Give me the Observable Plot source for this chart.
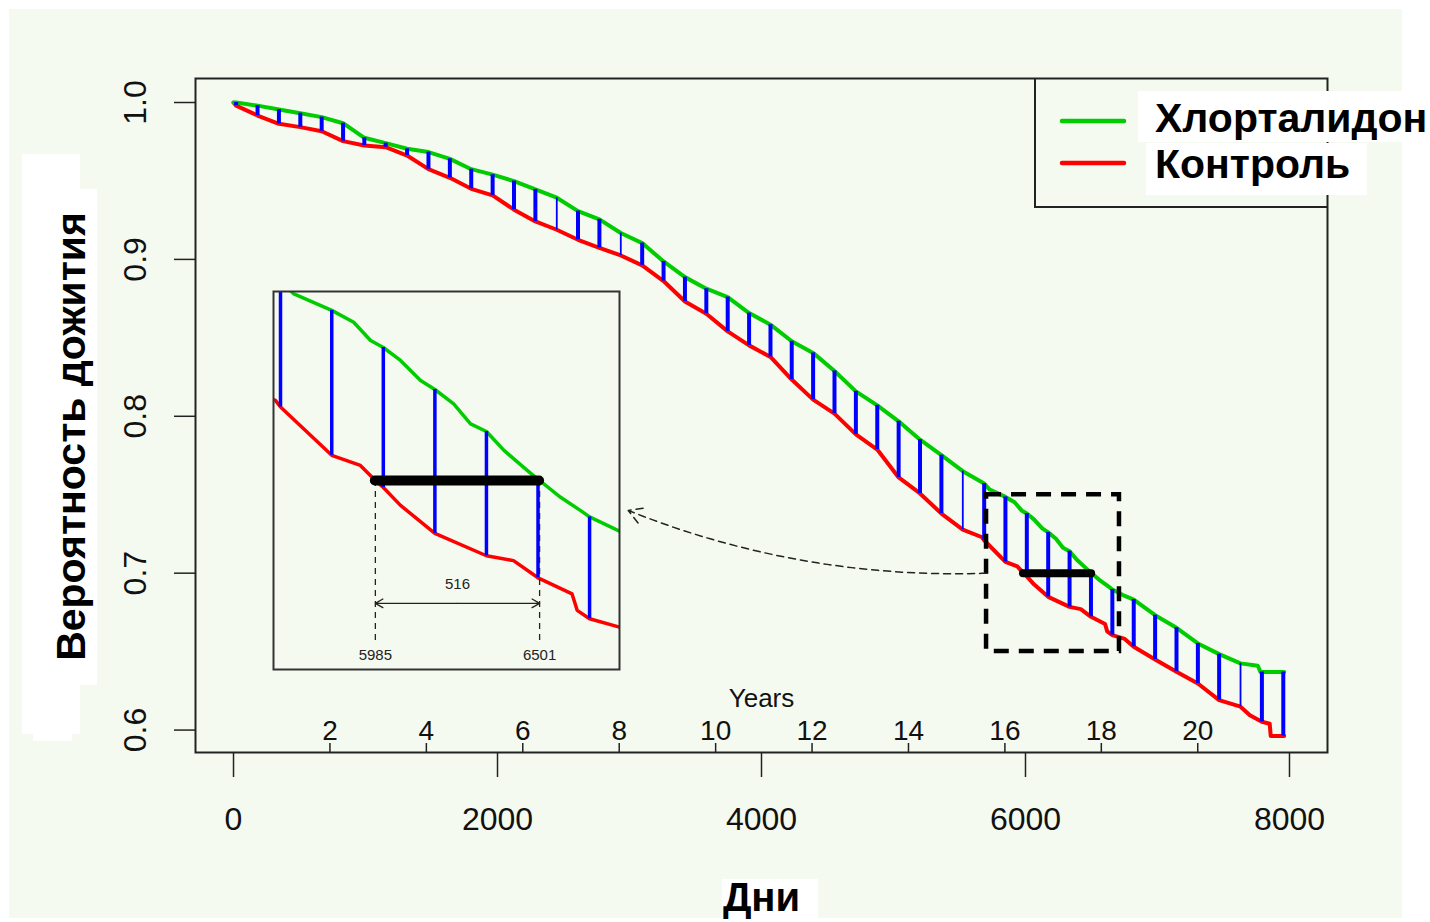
<!DOCTYPE html>
<html><head><meta charset="utf-8">
<script src="https://cdn.jsdelivr.net/npm/d3@7"></script>
<script src="https://cdn.jsdelivr.net/npm/@observablehq/plot@0.6"></script>
<style>
html,body{margin:0;padding:0;background:#fff;}
body{width:1430px;height:922px;position:relative;overflow:hidden;font-family:"Liberation Sans",Arial,sans-serif;}
.abs{position:absolute;}
</style></head><body>
<div class="abs" style="left:9px;top:9px;width:1393px;height:909px;background:#f5faf0"></div>
<div class="abs" style="left:22px;top:154px;width:58px;height:580px;background:#fff"></div>
<div class="abs" style="left:33px;top:189px;width:64px;height:496px;background:#fff"></div>
<div class="abs" style="left:33px;top:700px;width:39px;height:41px;background:#fff"></div>
<div class="abs" style="left:722px;top:879px;width:96px;height:43px;background:#fff"></div>
<div id="main" class="abs" style="left:0;top:0"></div>
<div id="inset" class="abs" style="left:271px;top:289px"></div>
<svg id="legend" class="abs" style="left:0;top:0;pointer-events:none" width="1430" height="922"></svg>
<script>
// ---- data ----
const seriesNames = ["Хлорталидон", "Контроль"];
const seriesColors = ["#00cc00", "#ff0000"];
const segColor = "#0000ff";

const xTicks = [0, 2000, 4000, 6000, 8000];
const yTicks = [0.6, 0.7, 0.8, 0.9, 1.0];
const yearTicks = [2, 4, 6, 8, 10, 12, 14, 16, 18, 20];

// days where the blue difference segments are drawn
const blueDays = [20, 182, 344, 506, 668, 830, 991, 1153, 1315, 1477,
  1639, 1801, 1963, 2125, 2287, 2449, 2610, 2772, 2934, 3096,
  3258, 3420, 3582, 3744, 3906, 4068, 4229, 4391, 4553, 4715,
  4877, 5039, 5201, 5363, 5525, 5687, 5848, 6010, 6172, 6334,
  6496, 6658, 6820, 6982, 7144, 7306, 7467, 7629, 7791, 7953];
const greenAtBlue = [1.000, 0.998, 0.9955, 0.9932, 0.9907, 0.9868, 0.9775, 0.9741, 0.9705, 0.9684,
  0.9641, 0.9575, 0.954, 0.9499, 0.9446, 0.9393, 0.9308, 0.9255, 0.9168, 0.9104,
  0.8987, 0.8887, 0.8813, 0.876, 0.8658, 0.8584, 0.8478, 0.8404, 0.8289, 0.8159,
  0.807, 0.7968, 0.7851, 0.7752, 0.765, 0.7571, 0.7486, 0.738, 0.726, 0.714,
  0.7003, 0.6896, 0.6832, 0.6732, 0.6652, 0.6552, 0.6484, 0.6425, 0.637, 0.637];
const redAtBlue = [0.998, 0.9917, 0.9864, 0.9843, 0.9817, 0.9754, 0.9726, 0.9715, 0.9662, 0.9575,
  0.952, 0.945, 0.9408, 0.9317, 0.9242, 0.9189, 0.9125, 0.9074, 0.9025, 0.8962,
  0.8862, 0.8732, 0.8654, 0.8541, 0.8452, 0.8378, 0.8234, 0.8106, 0.8017, 0.7885,
  0.7788, 0.761, 0.7508, 0.738, 0.7278, 0.721, 0.7072, 0.698, 0.6849, 0.6785,
  0.6722, 0.6605, 0.6531, 0.645, 0.6372, 0.6297, 0.6191, 0.6149, 0.6053, 0.5962];
const thinBlueDays = [2449, 2934, 5525, 7629];

// additional curve points (start, end and zoomed region)
const greenExtraDays = [0, 5729, 5917, 5970, 6064, 6127, 6231, 6284, 6389, 6462, 6501, 6567, 6630, 6752, 7760, 7780, 7960];
const greenExtraSurv = [1, 0.7533, 0.7452, 0.740, 0.7343, 0.7286, 0.7219, 0.7162, 0.7086, 0.7029, 0.700, 0.6952, 0.6914, 0.6855, 0.641, 0.637, 0.637];
const redExtraDays = [0, 5671, 5938, 5985, 6064, 6419, 6603, 6619, 6752, 7700, 7850, 7858, 7960];
const redExtraSurv = [1, 0.7229, 0.7043, 0.700, 0.6929, 0.6771, 0.6676, 0.6629, 0.6581, 0.6095, 0.604, 0.5962, 0.5962];

// annotation
const crossDays = [5985, 6501];
const crossLevel = 0.70;
const zoomDays = [5705, 6712];
const zoomSurv = [0.65, 0.75];
const arrowTarget = {day: 2990, s: 0.74};

// ---- build tables ----
function series(bd, bv, ed, ev) {
  const pts = bd.map((d, i) => ({day: d, s: bv[i]})).concat(ed.map((d, i) => ({day: d, s: ev[i]})));
  return pts.sort((a, b) => a.day - b.day);
}
const greenSeries = series(blueDays, greenAtBlue, greenExtraDays, greenExtraSurv);
const redSeries = series(blueDays, redAtBlue, redExtraDays, redExtraSurv);
const segs = blueDays.map((d, i) => ({day: d, g: greenAtBlue[i], r: redAtBlue[i], thin: thinBlueDays.includes(d)}));
const thickSegs = segs.filter(d => !d.thin);
const thinSegs = segs.filter(d => d.thin);
const bar = [{x1: crossDays[0], x2: crossDays[1], y: crossLevel}];
const box = [{x1: zoomDays[0], x2: zoomDays[1], y1: zoomSurv[0], y2: zoomSurv[1]}];
const font = "'Liberation Sans', Arial, sans-serif";

const main = Plot.plot({
  width: 1430, height: 922,
  marginLeft: 195, marginRight: 103, marginTop: 78, marginBottom: 170,
  x: {domain: [-288, 8288]},
  y: {domain: [0.5857, 1.0153]},
  style: {background: "transparent", fontFamily: font, color: "#000"},
  marks: [
    Plot.axisX(xTicks, {tickSize: 25, tickFormat: () => "", label: null, stroke: "#222", strokeWidth: 1.5}),
    Plot.axisY(yTicks, {tickSize: 21, tickFormat: () => "", label: null, stroke: "#222", strokeWidth: 1.5}),
    Plot.text(xTicks, {x: d => d, text: d => String(d), frameAnchor: "bottom", lineAnchor: "middle", textAnchor: "middle", dy: 67, fontSize: 32, fill: "#111"}),
    Plot.text(yTicks, {y: d => d, text: d => d3.format(".1f")(d), frameAnchor: "left", lineAnchor: "middle", textAnchor: "middle", dx: -60, rotate: -90, fontSize: 32, fill: "#111"}),
    Plot.ruleX(yearTicks, {x: d => d * 365.25, insetTop: 665, stroke: "#222", strokeWidth: 1.5}),
    Plot.text(yearTicks, {x: d => d * 365.25, text: d => String(d), frameAnchor: "bottom", lineAnchor: "middle", textAnchor: "middle", dy: -21, fontSize: 28, fill: "#111"}),
    Plot.text(["Years"], {text: d => d, frameAnchor: "bottom", lineAnchor: "middle", textAnchor: "middle", dy: -54, fontSize: 26, fill: "#111"}),
    Plot.frame({stroke: "#222", strokeWidth: 2}),
    Plot.line(redSeries, {x: "day", y: "s", stroke: seriesColors[1], strokeWidth: 4}),
    Plot.line(greenSeries, {x: "day", y: "s", stroke: seriesColors[0], strokeWidth: 4}),
    Plot.ruleX(thickSegs, {x: "day", y1: "g", y2: "r", stroke: segColor, strokeWidth: 4}),
    Plot.ruleX(thinSegs, {x: "day", y1: "g", y2: "r", stroke: segColor, strokeWidth: 1.8}),
    Plot.rect(box, {x1: "x1", x2: "x2", y1: "y1", y2: "y2", fill: "none", stroke: "#000", strokeWidth: 4.5, strokeDasharray: "15,10"}),
    Plot.ruleY(bar, {y: "y", x1: "x1", x2: "x2", stroke: "#000", strokeWidth: 8, strokeLinecap: "round"}),
    Plot.arrow([{x1: zoomDays[0], y1: crossLevel, x2: arrowTarget.day, y2: arrowTarget.s}], {x1: "x1", y1: "y1", x2: "x2", y2: "y2", bend: 12, stroke: "#222", strokeWidth: 1.5, strokeDasharray: "7,5", headLength: 16}),
    Plot.text(["Вероятность дожития"], {text: d => d, frameAnchor: "left", lineAnchor: "middle", textAnchor: "middle", dx: -124, dy: 21, rotate: -90, fontSize: 41, fontWeight: "bold", fill: "#000"}),
    Plot.text(["Дни"], {text: d => d, frameAnchor: "bottom", lineAnchor: "middle", textAnchor: "middle", dy: 146, fontSize: 40, fontWeight: "bold", fill: "#000"})
  ]
});
document.getElementById("main").append(main);

const mid = (crossDays[0] + crossDays[1]) / 2;
const inset = Plot.plot({
  width: 350, height: 382, margin: 2,
  x: {domain: [5665, 6752], axis: null},
  y: {domain: [0.646, 0.754], axis: null},
  style: {background: "transparent", fontFamily: font, color: "#000"},
  marks: [
    Plot.line(redSeries, {x: "day", y: "s", stroke: seriesColors[1], strokeWidth: 3.5, clip: true}),
    Plot.line(greenSeries, {x: "day", y: "s", stroke: seriesColors[0], strokeWidth: 3.5, clip: true}),
    Plot.ruleX(segs, {x: "day", y1: "g", y2: "r", stroke: segColor, strokeWidth: 3.5, clip: true}),
    Plot.ruleX(crossDays, {x: d => d, y1: crossLevel, y2: 0.6543, stroke: "#222", strokeWidth: 1.3, strokeDasharray: "6,5"}),
    Plot.ruleY(bar, {y: "y", x1: "x1", x2: "x2", stroke: "#000", strokeWidth: 10, strokeLinecap: "round"}),
    Plot.arrow([{a: mid, b: crossDays[0]}, {a: mid, b: crossDays[1]}], {x1: "a", x2: "b", y1: 0.6649, y2: 0.6649, stroke: "#222", strokeWidth: 1.3, headLength: 10}),
    Plot.text([String(crossDays[1] - crossDays[0])], {x: mid, y: 0.6703, text: d => d, fontSize: 15, fill: "#222"}),
    Plot.text(crossDays, {x: d => d, y: 0.650, text: d => String(d), fontSize: 15, fill: "#222"}),
    Plot.frame({stroke: "#333", strokeWidth: 2})
  ]
});
document.getElementById("inset").append(inset);

// ---- legend ----
const lg = d3.select("#legend");
lg.append("path").attr("d", "M1035,78V207H1327").attr("fill", "none").attr("stroke", "#222").attr("stroke-width", 2);
const bgs = [[1138, 91, 292, 51], [1146, 143, 221, 52]];
seriesNames.forEach((name, i) => {
  const b = bgs[i];
  lg.append("rect").attr("x", b[0]).attr("y", b[1]).attr("width", b[2]).attr("height", b[3]).attr("fill", "#fff");
});
seriesNames.forEach((name, i) => {
  const ly = 121 + i * 42;
  lg.append("line").attr("x1", 1062).attr("x2", 1124).attr("y1", ly).attr("y2", ly)
    .attr("stroke", seriesColors[i]).attr("stroke-width", 4.5).attr("stroke-linecap", "round");
  lg.append("text").attr("x", 1155).attr("y", 132 + i * 46).text(name)
    .attr("font-family", font).attr("font-size", 41).attr("font-weight", "bold").attr("fill", "#000");
});
</script>
</body></html>
